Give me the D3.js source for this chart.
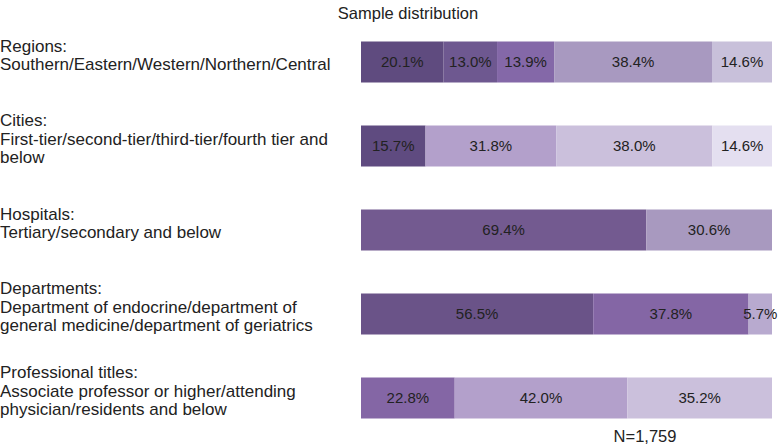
<!DOCTYPE html>
<html>
<head>
<meta charset="utf-8">
<script src="https://cdn.jsdelivr.net/npm/d3@7"></script>
<style>
  body { margin: 0; background: #fff; }
  svg { display: block; font-family: "Liberation Sans", Arial, Helvetica, sans-serif; }
</style>
</head>
<body>
<svg width="779" height="447"></svg>
<script>
const categories = ["Regions", "Cities", "Hospitals", "Departments", "Professional titles"];

const label_lines = [
    ["Regions:", "Southern/Eastern/Western/Northern/Central"],
    ["Cities:", "First-tier/second-tier/third-tier/fourth tier and", "below"],
    ["Hospitals:", "Tertiary/secondary and below"],
    ["Departments:", "Department of endocrine/department of", "general medicine/department of geriatrics"],
    ["Professional titles:", "Associate professor or higher/attending", "physician/residents and below"]
];

const shares = [
    [20.1, 13.0, 13.9, 38.4, 14.6],
    [15.7, 31.8, 38.0, 14.6],
    [69.4, 30.6],
    [56.5, 37.8, 5.7],
    [22.8, 42.0, 35.2]
];

const colors = [
    ["#5f4b7f", "#6e5890", "#8468a8", "#a899c0", "#c8c0da"],
    ["#5f4b80", "#b3a0cb", "#cbc0dc", "#e4dff0"],
    ["#735a90", "#a899bf"],
    ["#6a5388", "#8466a5", "#b8aacf"],
    ["#8466a5", "#b3a0cb", "#cbc0dc"]
];

const title = "Sample distribution";
const note = "N=1,759";

const svg = d3.select("svg");
const width = +svg.attr("width");
const height = +svg.attr("height");

const bar_left = 361;
const bar_right = 772;
const bar_h = 41;

const x_scale = d3.scaleLinear().domain([0, 100]).range([bar_left, bar_right]);
const y_scale = d3.scalePoint().domain(categories).range([62, 398]);

svg.append("text")
    .attr("x", 408)
    .attr("y", 19)
    .attr("text-anchor", "middle")
    .style("font-size", "16.5px")
    .style("fill", "#222")
    .text(title);

// left-hand labels
const label_g = svg.append("g");
categories.forEach((c, i) => {
    const lines = label_lines[i];
    const mid = y_scale(c) - 7;
    lines.forEach((line, j) => {
        label_g.append("text")
            .attr("x", 0)
            .attr("y", mid + (j - (lines.length - 1) / 2) * 18.5)
            .attr("dy", "0.35em")
            .style("font-size", "17px")
            .style("fill", "#222")
            .text(line);
    });
});

// stacked segments
const rows = categories.map((c, i) => {
    let acc = 0;
    return shares[i].map((v, k) => {
        const seg = { cat: c, value: v, x0: acc, x1: acc + v, color: colors[i][k] };
        acc += v;
        return seg;
    });
});

const bars_g = svg.append("g");
rows.forEach((segs) => {
    const g = bars_g.append("g");
    g.selectAll("rect")
        .data(segs)
        .enter()
        .append("rect")
        .attr("x", (d) => x_scale(d.x0))
        .attr("width", (d) => x_scale(Math.min(d.x1, 100)) - x_scale(d.x0))
        .attr("y", (d) => y_scale(d.cat) - bar_h / 2)
        .attr("height", bar_h)
        .style("fill", (d) => d.color);

    g.selectAll("text")
        .data(segs)
        .enter()
        .append("text")
        .attr("x", (d) => x_scale((d.x0 + Math.min(d.x1, 100)) / 2))
        .attr("y", (d) => y_scale(d.cat))
        .attr("dy", "0.35em")
        .attr("text-anchor", "middle")
        .style("font-size", "15px")
        .style("fill", "#222")
        .text((d) => d.value.toFixed(1) + "%");
});

svg.append("text")
    .attr("x", 645)
    .attr("y", 436)
    .attr("dy", "0.35em")
    .attr("text-anchor", "middle")
    .style("font-size", "16.5px")
    .style("fill", "#222")
    .text(note);
</script>
</body>
</html>
